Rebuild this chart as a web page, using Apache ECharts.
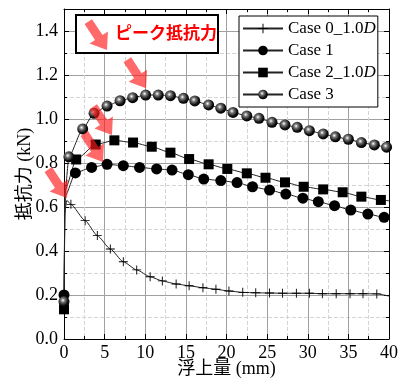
<!DOCTYPE html>
<html>
<head>
<meta charset="utf-8">
<script src="https://cdn.jsdelivr.net/npm/echarts@6/dist/echarts.min.js"></script>
<style>
  html, body { margin: 0; padding: 0; background: #fff; }
  #chart { width: 404px; height: 378px; }
</style>
</head>
<body>
<div id="chart"></div>
<script>
// 読み取った値 (浮上量 mm, 抵抗力 kN)
const case0X = [0.85, 2.6, 4.1, 5.7, 7.3, 8.95, 10.6, 12.1, 13.8, 15.4, 17.1, 18.7, 20.3, 22.0, 23.6, 25.3, 26.9, 28.6, 30.2, 31.8, 33.5, 35.2, 36.8, 38.5];
const case0Y = [0.612, 0.538, 0.47, 0.409, 0.351, 0.314, 0.283, 0.264, 0.25, 0.242, 0.233, 0.226, 0.218, 0.212, 0.21, 0.209, 0.208, 0.208, 0.208, 0.206, 0.206, 0.206, 0.206, 0.205];
const case0Bare = [[0.05, 0.56], [0.35, 0.63], [40, 0.195]];

const case1X = [0, 1.4, 3.4, 5.3, 7.3, 9.3, 11.4, 13.3, 15.3, 17.2, 19.3, 21.3, 23.2, 25.3, 27.3, 29.4, 31.3, 33.3, 35.3, 37.4, 39.4];
const case1Y = [0.2, 0.755, 0.78, 0.794, 0.788, 0.78, 0.773, 0.768, 0.747, 0.727, 0.72, 0.711, 0.692, 0.677, 0.659, 0.64, 0.624, 0.606, 0.586, 0.568, 0.553];
const case1Bare = [[0.15, 0.65], [40, 0.549]];

const case2X = [0, 1.5, 3.9, 6.2, 8.5, 10.8, 13.1, 15.4, 17.8, 20.1, 22.5, 24.8, 27.2, 29.5, 31.9, 34.3, 36.6, 39.0];
const case2Y = [0.135, 0.816, 0.884, 0.903, 0.893, 0.874, 0.847, 0.818, 0.794, 0.773, 0.753, 0.733, 0.712, 0.692, 0.68, 0.667, 0.647, 0.632];
const case2Bare = [[0.15, 0.68], [40, 0.628]];

const case3X = [0, 0.6, 2.3, 3.7, 5.3, 6.9, 8.45, 10.05, 11.6, 13.1, 14.7, 16.1, 17.8, 19.3, 20.8, 22.5, 24.0, 25.6, 27.2, 28.7, 30.2, 31.9, 33.4, 35.0, 36.6, 38.2, 39.7];
const case3Y = [0.17, 0.828, 0.955, 1.026, 1.059, 1.083, 1.097, 1.109, 1.109, 1.106, 1.094, 1.082, 1.064, 1.049, 1.03, 1.014, 1.003, 0.985, 0.973, 0.962, 0.947, 0.932, 0.919, 0.908, 0.893, 0.882, 0.872];
const case3Bare = [[0.12, 0.66], [40, 0.87]];

const seriesNames = ['Case 0_1.0D', 'Case 1', 'Case 2_1.0D', 'Case 3'];
const arrowTips = [[10.1, 1.14], [5.9, 0.927], [4.8, 0.805], [0.37, 0.641]];

const serif = '"Liberation Serif", "Times New Roman", serif';
const serifCjk = '"Liberation Serif", "Noto Sans CJK JP", serif';
const crossPath = 'path://M4.5,0h1v4.5h4.5v1h-4.5v4.5h-1v-4.5h-4.5v-1h4.5z';
const sphere = {
  type: 'radial', x: 0.4, y: 0.38, r: 0.62,
  colorStops: [
    { offset: 0, color: '#ffffff' },
    { offset: 0.3, color: '#777' },
    { offset: 0.75, color: '#111' },
    { offset: 1, color: '#000' }
  ]
};

function buildData(xs, ys, bare) {
  const pts = xs.map((x, i) => ({ value: [x, ys[i]] }));
  bare.forEach(p => pts.push({ value: p, symbol: 'none' }));
  pts.sort((a, b) => a.value[0] - b.value[0]);
  return pts;
}

function makeSeries(name, data, symbol, size, color) {
  return {
    name: name,
    type: 'line',
    data: data,
    symbol: symbol,
    symbolSize: size,
    showAllSymbol: true,
    smooth: 0.2,
    smoothMonotone: 'x',
    lineStyle: { color: '#222', width: 1 },
    itemStyle: { color: color, borderColor: '#000', borderWidth: 0 },
    emphasis: { disabled: true },
    animation: false
  };
}

function arrowPoints(tx, ty) {
  const dx = 0.55, dy = 0.835;
  const L = 34, sw = 9, hw = 22, hl = 15;
  const nx = -dy, ny = dx;
  const bx = tx - dx * hl, by = ty - dy * hl;
  const ax = tx - dx * L, ay = ty - dy * L;
  return [
    [ax + nx * sw / 2, ay + ny * sw / 2],
    [bx + nx * sw / 2, by + ny * sw / 2],
    [bx + nx * hw / 2, by + ny * hw / 2],
    [tx, ty],
    [bx - nx * hw / 2, by - ny * hw / 2],
    [bx - nx * sw / 2, by - ny * sw / 2],
    [ax - nx * sw / 2, ay - ny * sw / 2]
  ];
}

const arrowColor = 'rgba(255,25,25,0.65)';

const chart = echarts.init(document.getElementById('chart'));

const axisCommon = {
  axisLine: { show: true, onZero: false, lineStyle: { color: '#000', width: 1 } },
  axisTick: { show: true, inside: true, length: 5, lineStyle: { color: '#000' } },
  minorTick: { show: true, splitNumber: 2, length: 3, lineStyle: { color: '#000' } }
};

const option = {
  animation: false,
  grid: { left: 64, right: 15, top: 9, bottom: 39, outerBoundsMode: 'none', containLabel: false },
  xAxis: [
    Object.assign({
      type: 'value', min: 0, max: 40, interval: 5,
      name: '浮上量 (mm)', nameLocation: 'middle', nameGap: 21, nameMoveOverlap: false,
      nameTextStyle: { fontFamily: serifCjk, fontSize: 18, color: '#000' },
      axisLabel: { fontFamily: serif, fontSize: 18, color: '#000', margin: 5 },
      splitLine: { show: true, lineStyle: { color: '#a0a0a0', width: 1 } },
      minorSplitLine: { show: true, lineStyle: { color: '#d4d4d4', type: 'dashed', width: 1 } }
    }, axisCommon),
    Object.assign({
      type: 'value', min: 0, max: 40, interval: 5, position: 'top',
      axisLabel: { show: false }, splitLine: { show: false }
    }, axisCommon)
  ],
  yAxis: [
    Object.assign({
      type: 'value', min: 0, max: 1.5, interval: 0.2,
      name: '抵抗力 (kN)', nameLocation: 'middle', nameGap: 30, nameMoveOverlap: false,
      nameTextStyle: { fontFamily: serifCjk, fontSize: 18, color: '#000' },
      axisLabel: {
        fontFamily: serif, fontSize: 18, color: '#000', margin: 6,
        formatter: v => (v > 1.45 ? '' : v.toFixed(1))
      },
      splitLine: { show: true, lineStyle: { color: '#a0a0a0', width: 1 } },
      minorSplitLine: { show: true, lineStyle: { color: '#d4d4d4', type: 'dashed', width: 1 } }
    }, axisCommon),
    Object.assign({
      type: 'value', min: 0, max: 1.5, interval: 0.2, position: 'right',
      axisLabel: { show: false }, splitLine: { show: false }
    }, axisCommon)
  ],
  legend: {
    left: 239, top: 16, orient: 'vertical',
    itemWidth: 40, itemHeight: 12, itemGap: 5,
    padding: [4, 2, 4, 3],
    borderColor: '#000', borderWidth: 1, backgroundColor: '#fff',
    data: seriesNames,
    formatter: function (name) {
      if (name.endsWith('D')) return '{n|' + name.slice(0, -1) + '}{i|D}';
      return '{n|' + name + '}';
    },
    textStyle: {
      color: '#000', fontFamily: serif, fontSize: 17,
      rich: {
        n: { fontFamily: serif, fontSize: 17, color: '#000' },
        i: { fontFamily: serif, fontSize: 17, color: '#000', fontStyle: 'italic' }
      }
    }
  },
  series: [
    makeSeries(seriesNames[0], buildData(case0X, case0Y, case0Bare), crossPath, 9, '#000'),
    makeSeries(seriesNames[1], buildData(case1X, case1Y, case1Bare), 'circle', 11, '#000'),
    makeSeries(seriesNames[2], buildData(case2X, case2Y, case2Bare), 'rect', 10, '#000'),
    makeSeries(seriesNames[3], buildData(case3X, case3Y, case3Bare), 'circle', 11, sphere)
  ]
};

chart.setOption(option);

// 注釈: ピーク抵抗力 の枠と矢印
const arrows = arrowTips.map(t => {
  const p = chart.convertToPixel({ gridIndex: 0 }, t);
  return {
    type: 'polygon', z: 100,
    shape: { points: arrowPoints(p[0], p[1]) },
    style: { fill: arrowColor }
  };
});

chart.setOption({
  graphic: [
    {
      type: 'rect', z: 99,
      shape: { x: 76, y: 15, width: 142, height: 38 },
      style: { fill: '#fff', stroke: '#000', lineWidth: 2 }
    },
    {
      type: 'polygon', z: 100,
      shape: { points: arrowPoints(107, 50) },
      style: { fill: arrowColor }
    },
    {
      type: 'text', z: 100, left: 115, top: 24,
      style: {
        text: 'ピーク抵抗力', fill: '#ff0000',
        font: 'bold 17px "Noto Sans CJK JP"'
      }
    }
  ].concat(arrows)
});
</script>
</body>
</html>
